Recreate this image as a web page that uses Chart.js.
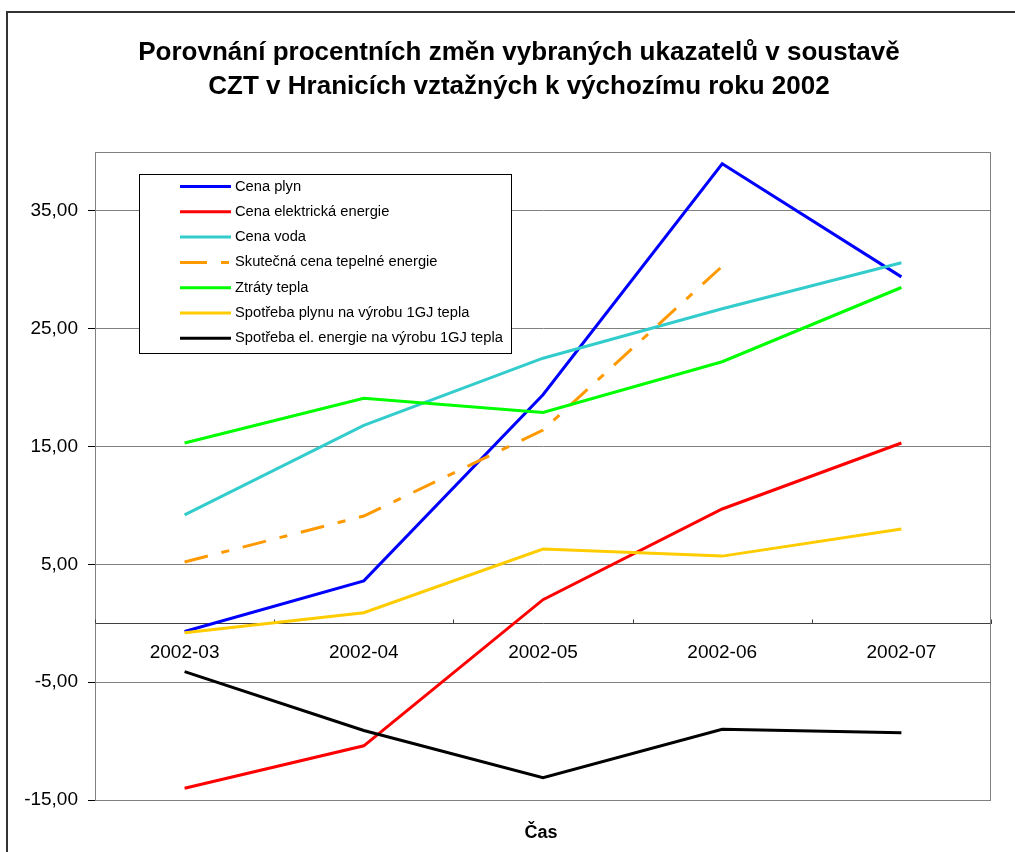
<!DOCTYPE html>
<html>
<head>
<meta charset="utf-8">
<script src="https://cdn.jsdelivr.net/npm/chart.js@4/dist/chart.umd.min.js"></script>
<style>
  body { margin: 0; background: #fff; }
  #wrap { width: 1015px; height: 852px; }
</style>
</head>
<body>
<div id="wrap"><canvas id="czt" width="1015" height="852"></canvas></div>
<script>
// Data
const months = ['2002-03', '2002-04', '2002-05', '2002-06', '2002-07'];
const cenaPlyn = [-0.7, 3.6, 19.4, 39.0, 29.4];
const cenaElektrina = [-14.0, -10.4, 2.0, 9.7, 15.3];
const cenaVoda = [9.2, 16.8, 22.5, 26.7, 30.6];
const cenaTeplo = [5.2, 9.1, 16.4, 30.3, null];
const ztratyTepla = [15.3, 19.1, 17.9, 22.2, 28.5];
const spotrebaPlynu = [-0.8, 0.9, 6.3, 5.7, 8.0];
const spotrebaEl = [-4.1, -9.1, -13.1, -9.0, -9.3];
const yTicks = [-15, -5, 5, 15, 25, 35];

const FONT = '"Liberation Sans", Arial, sans-serif';

const series = [
  { label: 'Cena plyn', data: cenaPlyn, color: '#0000ff' },
  { label: 'Cena elektrická energie', data: cenaElektrina, color: '#ff0000' },
  { label: 'Cena voda', data: cenaVoda, color: '#33cccc' },
  { label: 'Skutečná cena tepelné energie', data: cenaTeplo, color: '#ff9900', dash: [24, 14, 8, 14] },
  { label: 'Ztráty tepla', data: ztratyTepla, color: '#00ff00' },
  { label: 'Spotřeba plynu na výrobu 1GJ tepla', data: spotrebaPlynu, color: '#ffcc00' },
  { label: 'Spotřeba el. energie na výrobu 1GJ tepla', data: spotrebaEl, color: '#000000' }
];

// frame, title, plot border, legend box and axis title
const decor = {
  id: 'decor',
  beforeDraw(chart) {
    const c = chart.ctx;
    c.save();
    c.fillStyle = '#fff';
    c.fillRect(0, 0, chart.width, chart.height);
    c.strokeStyle = '#333';
    c.lineWidth = 2;
    c.beginPath();
    c.moveTo(7, chart.height);
    c.lineTo(7, 12);
    c.lineTo(chart.width, 12);
    c.stroke();
    c.fillStyle = '#000';
    c.font = 'bold 26px ' + FONT;
    c.textAlign = 'center';
    c.textBaseline = 'middle';
    c.fillText('Porovnání procentních změn vybraných ukazatelů v soustavě', 519, 53);
    c.fillText('CZT v Hranicích vztažných k výchozímu roku 2002', 519, 87);
    c.font = 'bold 18px ' + FONT;
    c.fillText('Čas', 541, 833);
    c.restore();
  },
  beforeDatasetsDraw(chart) {
    const a = chart.chartArea;
    const c = chart.ctx;
    c.save();
    c.strokeStyle = '#808080';
    c.lineWidth = 1;
    c.strokeRect(a.left + 0.5, a.top + 0.5, a.right - a.left - 1, a.bottom - a.top);
    // small category separators pointing up from the zero line
    const xs = chart.scales.x, y0 = Math.round(chart.scales.y.getPixelForValue(0)) + 0.5;
    c.strokeStyle = '#404040';
    c.beginPath();
    for (let i = 0; i <= months.length; i++) {
      const px = Math.round(xs.left + i * (xs.right - xs.left) / months.length) + 0.5;
      c.moveTo(px, y0);
      c.lineTo(px, y0 - 4);
    }
    c.stroke();
    c.restore();
  },
  afterDatasetsDraw(chart) {
    const c = chart.ctx;
    c.save();
    c.fillStyle = '#fff';
    c.fillRect(139, 174, 372, 179);
    c.strokeStyle = '#000';
    c.lineWidth = 1;
    c.strokeRect(139.5, 174.5, 372, 179);
    c.font = '14.7px ' + FONT;
    c.textBaseline = 'middle';
    c.textAlign = 'left';
    series.forEach((s, i) => {
      const y = 186.5 + i * 25.3;
      c.strokeStyle = s.color;
      c.lineWidth = 3;
      c.setLineDash(s.dash ? [27, 14, 8, 14] : []);
      c.beginPath();
      c.moveTo(180, y);
      c.lineTo(231, y);
      c.stroke();
      c.setLineDash([]);
      c.fillStyle = '#000';
      c.fillText(s.label, 235, y);
    });
    c.restore();
  }
};

new Chart(document.getElementById('czt'), {
  type: 'line',
  data: {
    labels: months,
    datasets: series.map((s, i) => ({
      label: s.label,
      data: s.data,
      borderColor: s.color,
      backgroundColor: s.color,
      borderWidth: 3,
      borderDash: s.dash || [],
      pointRadius: 0,
      tension: 0,
      fill: false,
      order: series.length - i
    }))
  },
  options: {
    responsive: false,
    animation: false,
    layout: { padding: { left: 0, top: 152, right: 24, bottom: 52 } },
    plugins: {
      legend: { display: false },
      title: { display: false },
      tooltip: { enabled: false }
    },
    scales: {
      x: {
        position: { y: 0 },
        offset: true,
        grid: { display: false, drawTicks: false },
        border: { display: true, color: '#404040', width: 1 },
        ticks: { color: '#000', font: { family: FONT, size: 19 }, padding: 18, maxRotation: 0 }
      },
      y: {
        min: -15,
        max: 40,
        afterBuildTicks: scale => { scale.ticks = yTicks.map(v => ({ value: v })); },
        afterFit: scale => { scale.width = 95; },
        grid: { color: '#808080', tickLength: 7, tickColor: '#000' },
        border: { display: true, color: '#000', width: 1 },
        ticks: {
          color: '#000',
          font: { family: FONT, size: 19 },
          padding: 10,
          callback: v => v.toFixed(2).replace('.', ',')
        }
      }
    }
  },
  plugins: [decor]
});
</script>
</body>
</html>
